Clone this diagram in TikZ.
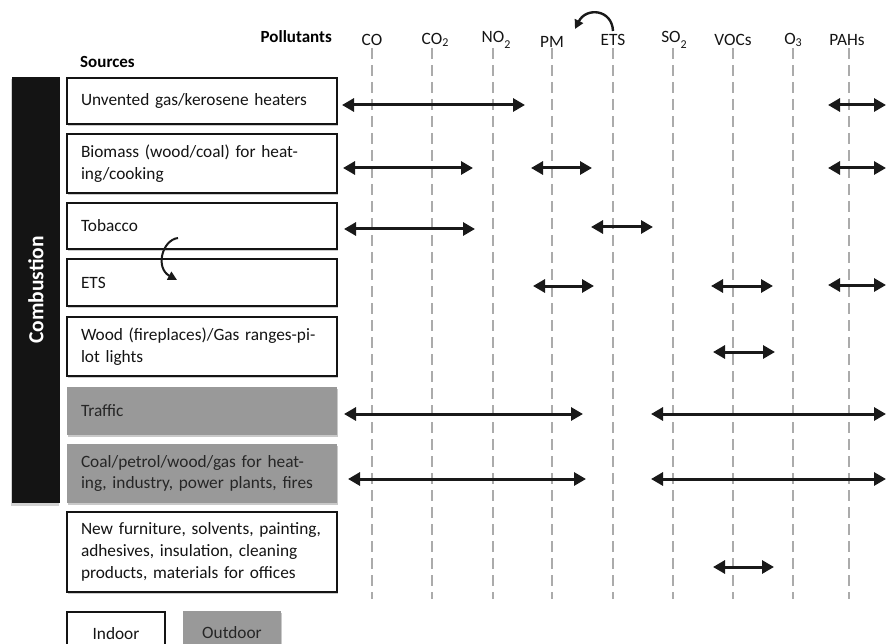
\documentclass[tikz,border=0pt]{standalone}
\usepackage{fontspec}
\setmainfont{Carlito}
\usetikzlibrary{arrows.meta,shadows}

\tikzset{
  basefont/.style={font=\fontsize{17.3}{21.7}\selectfont},
  srcbox/.style={basefont, draw=black!92, line width=2.4pt, fill=white,
    minimum width=270pt, text width=242pt, align=left, inner xsep=14pt, inner ysep=0pt,
    text=black!92, drop shadow={shadow xshift=0.6pt, shadow yshift=-2.4pt, fill=black!40}},
  outbox/.style={srcbox, draw=none, fill=black!40, text=black!85,
    drop shadow={shadow xshift=0.6pt, shadow yshift=-2.4pt, fill=black!22}},
  pollab/.style={basefont, inner sep=1pt, text=black!92},
  colline/.style={draw=black!33, line width=1.5pt, dash pattern=on 11pt off 6pt},
  spanarrow/.style={{Triangle[length=12pt,width=13pt]}-{Triangle[length=12pt,width=13pt]},
    line width=3pt, draw=black!90},
  curl/.style={-{Triangle[length=9pt,width=9pt]}, line width=2.4pt, draw=black!90},
}

\begin{document}
\begin{tikzpicture}[x=1pt,y=-1pt]
\useasboundingbox (0,0) rectangle (888,644);
\clip (0,0) rectangle (888,644);

% headings
\node[basefont, anchor=east, inner sep=0pt, font=\bfseries\fontsize{17}{20}\selectfont] (polhead) at (332,37) {Pollutants};
\node[basefont, anchor=west, inner sep=0pt, font=\bfseries\fontsize{17}{20}\selectfont] (srchead) at (80,62) {Sources};

% pollutant column labels
\node[pollab] (pCO)   at (372,40) {CO};
\node[pollab] (pCOt)  at (432,40) {CO\rlap{\raisebox{-2pt}{\fontsize{12}{12}\selectfont 2}}};
\node[pollab] (pNO)   at (493,40) {NO\rlap{\raisebox{-6pt}{\fontsize{12}{12}\selectfont 2}}};
\node[pollab] (pPM)   at (552,42) {PM};
\node[pollab] (pETS)  at (613,40) {ETS};
\node[pollab] (pSO)   at (671,40) {SO\rlap{\raisebox{-6pt}{\fontsize{12}{12}\selectfont 2}}};
\node[pollab] (pVOC)  at (733,40) {VOCs};
\node[pollab] (pO)    at (790,40) {O\rlap{\raisebox{-2pt}{\fontsize{12}{12}\selectfont 3}}};
\node[pollab] (pPAH)  at (847,40) {PAHs};

% dashed column guides
\foreach \x in {372,432,493,552,613,673,733,793,849}{
  \draw[colline] (\x,48) -- (\x,599);
}

% curved arrow above the labels
\coordinate (etsTop) at (613,31);
\coordinate (pmTop) at (575,29);
\draw[curl] (etsTop) .. controls (612,9) and (586,7) .. (pmTop);

% combustion bar
\node[fill=black!92, rotate=90, minimum width=426pt, minimum height=48pt, inner sep=0pt,
  text=white, font=\bfseries\fontsize{21.5}{24}\selectfont,
  drop shadow={shadow xshift=-1pt, shadow yshift=-2.5pt, fill=black!35}] (comb) at (36,290) {Combustion};

% source boxes
\node[srcbox, minimum height=46pt] (b1) at (202,101) {Unvented gas/kerosene heaters};
\node[srcbox, minimum height=59pt] (b2) at (202,163.5) {Biomass (wood/coal) for heat-\\ing/cooking};
\node[srcbox, minimum height=46pt] (b3) at (202,226) {Tobacco};
\node[srcbox, minimum height=47pt] (b4) at (202,282.5) {ETS};
\node[srcbox, minimum height=59pt] (b5) at (202,346.5) {Wood (fireplaces)/Gas ranges-pi-\\lot lights};
\node[outbox, minimum height=48pt] (b6) at (202,411) {Traffic};
\node[outbox, minimum height=59pt] (b7) at (202,473.5) {Coal/petrol/wood/gas for heat-\\ing, industry, power plants, fires};
\node[srcbox, minimum height=80pt] (b8) at (202,552) {New furniture, solvents, painting,\\adhesives, insulation, cleaning\\products, materials for offices};

% tobacco -> ETS curved arrow
\coordinate (tobEnd) at (178,238);
\coordinate (etsEnd) at (177,280);
\draw[curl, line width=2pt] (tobEnd) .. controls (162,240) and (155,268) .. (etsEnd);

% legend
\node[srcbox, text width=, align=center, minimum width=98pt, minimum height=44pt] (legIn) at (116,634) {Indoor};
\node[outbox, text width=, align=center, minimum width=98pt, minimum height=44pt] (legOut) at (232,633) {Outdoor};

% pollutant ranges
\draw[spanarrow] (342,105) -- (525,105);
\draw[spanarrow] (828,105) -- (886,105);

\draw[spanarrow] (343,168) -- (473,168);
\draw[spanarrow] (531,168) -- (592,168);
\draw[spanarrow] (828,168) -- (886,168);

\draw[spanarrow] (344,229) -- (475,229);
\draw[spanarrow] (591,227) -- (653,227);

\draw[spanarrow] (533,286) -- (594,286);
\draw[spanarrow] (711,286) -- (773,286);
\draw[spanarrow] (828,285) -- (886,285);

\draw[spanarrow] (713,352) -- (775,352);

\draw[spanarrow] (344,414) -- (583,414);
\draw[spanarrow] (651,414) -- (886,414);

\draw[spanarrow] (348,479) -- (586,479);
\draw[spanarrow] (651,479) -- (886,479);

\draw[spanarrow] (713,567) -- (774,567);
\end{tikzpicture}
\end{document}
